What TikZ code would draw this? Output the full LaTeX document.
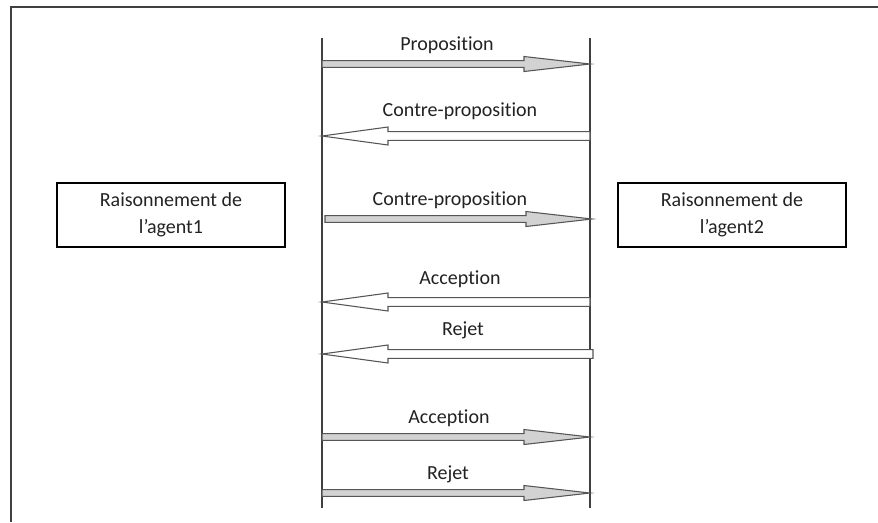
\documentclass[tikz,border=0pt]{standalone}
\usepackage{fontspec}
\setmainfont[Ligatures=NoCommon]{Carlito}
\usetikzlibrary{calc}
\definecolor{txt}{HTML}{222222}
\definecolor{lnc}{HTML}{404040}
\definecolor{arrline}{HTML}{555555}
\definecolor{arrfill}{HTML}{D2D2D2}
\tikzset{
  x=0.75pt, y=-0.75pt,
  lbl/.style={font=\fontsize{15pt}{18pt}\selectfont, text=txt, inner sep=0pt},
  agentbox/.style={draw=black, line width=0.9pt, minimum width=171pt, minimum height=48pt, align=center, font=\fontsize{15pt}{20pt}\selectfont, text=txt},
  lifeline/.style={draw=lnc, line width=1pt},
  frameline/.style={draw=lnc, line width=1.4pt},
  rblk/.style={fill=arrfill, draw=arrline, line width=0.8pt, line join=miter},
  lblk/.style={fill=white, draw=arrline, line width=0.8pt, line join=miter}
}
\newcommand\blockR[2]{\path[rblk] ($(#1)+(0,-3.3)$) -- ($(#2)+(-66,-3.3)$) -- ($(#2)+(-66,-7.5)$) -- (#2) -- ($(#2)+(-66,7.5)$) -- ($(#2)+(-66,3.3)$) -- ($(#1)+(0,3.3)$) -- cycle;}
\newcommand\blockL[2]{\path[lblk] ($(#1)+(0,-4.3)$) -- ($(#2)+(66,-4.3)$) -- ($(#2)+(66,-9)$) -- (#2) -- ($(#2)+(66,9)$) -- ($(#2)+(66,4.3)$) -- ($(#1)+(0,4.3)$) -- cycle;}
\begin{document}
\begin{tikzpicture}
\useasboundingbox (0,0) rectangle (878,522);
% frame (top and left edges)
\coordinate (fTL) at (11,7);
\coordinate (fTR) at (878,7);
\coordinate (fBL) at (11,522);
\draw[frameline] (fTR) -- (fTL) -- (fBL);
% lifelines
\coordinate (l1t) at (322,38); \coordinate (l1b) at (322,508);
\coordinate (l2t) at (590,38); \coordinate (l2b) at (590,508);
\draw[lifeline] (l1t) -- (l1b);
\draw[lifeline] (l2t) -- (l2b);
% agent boxes
\node[agentbox] (ag1) at (171,215) {Raisonnement de\\l’agent1};
\node[agentbox] (ag2) at (732,215) {Raisonnement de\\l’agent2};
% messages
\coordinate (m1a) at (322,64);  \coordinate (m1b) at (590,64);
\coordinate (m2a) at (590,136); \coordinate (m2b) at (322,136);
\coordinate (m3a) at (325,219); \coordinate (m3b) at (592,219);
\coordinate (m4a) at (590,302); \coordinate (m4b) at (322,302);
\coordinate (m5a) at (593,354); \coordinate (m5b) at (322,354);
\coordinate (m6a) at (322,437); \coordinate (m6b) at (590,437);
\coordinate (m7a) at (322,493); \coordinate (m7b) at (590,493);
\blockR{m1a}{m1b}
\blockL{m2a}{m2b}
\blockR{m3a}{m3b}
\blockL{m4a}{m4b}
\blockL{m5a}{m5b}
\blockR{m6a}{m6b}
\blockR{m7a}{m7b}
% labels
\node[lbl] (t1) at (447,45) {Proposition};
\node[lbl] (t2) at (460,111) {Contre-proposition};
\node[lbl] (t3) at (450,200) {Contre-proposition};
\node[lbl] (t4) at (460,279) {Acception};
\node[lbl] (t5) at (463,330) {Rejet};
\node[lbl] (t6) at (449,418) {Acception};
\node[lbl] (t7) at (448,474) {Rejet};
\end{tikzpicture}
\end{document}
